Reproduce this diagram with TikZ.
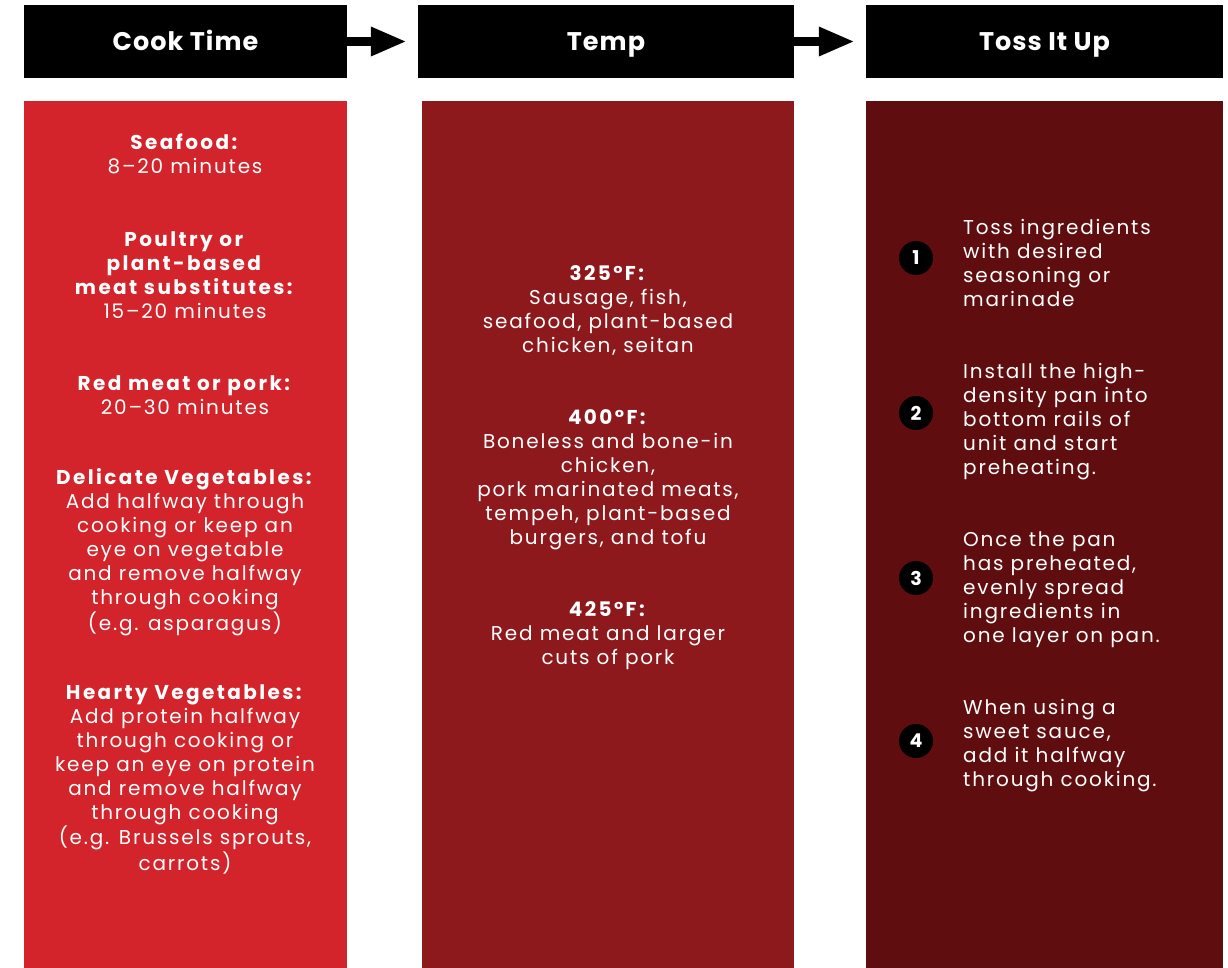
\documentclass[tikz,border=0pt]{standalone}
\usepackage{fontspec}
\setmainfont{Poppins}[UprightFeatures={LetterSpace=9}, BoldFeatures={LetterSpace=12}]
\newfontfamily\headfont{Poppins}[BoldFeatures={LetterSpace=4}]
\usetikzlibrary{arrows.meta}

\definecolor{cookred}{RGB}{211,36,43}
\definecolor{tempred}{RGB}{142,25,29}
\definecolor{tossred}{RGB}{96,13,16}

\tikzset{
  header/.style={fill=black, text=white, minimum height=73pt, inner sep=0pt,
    text height=18pt, text depth=0pt,
    font=\headfont\bfseries\fontsize{25.5}{28}\selectfont},
  body/.style={text=white, align=center, inner sep=0pt, anchor=base,
    font=\fontsize{20}{24}\selectfont},
  steptext/.style={body, align=left, anchor=base west},
  stepnum/.style={circle, fill=black, text=white, minimum size=34pt, inner sep=0pt,
    font=\headfont\bfseries\fontsize{19}{19}\selectfont},
  flow/.style={line width=9pt, -{Triangle[length=36pt,width=27pt]}, shorten >=11pt}
}

\begin{document}
\begin{tikzpicture}
  [x=1pt, y=-1pt]
  \useasboundingbox (0,0) rectangle (1228,968);

  % panels
  \fill[cookred] (24,101) rectangle (347,968);
  \fill[tempred] (422,101) rectangle (794,968);
  \fill[tossred] (866,101) rectangle (1223,968);

  \node[header, minimum width=323pt] (cook) at (185.5,41.5) {Cook Time};
  \node[header, minimum width=376pt] (temp) at (606,41.5) {Temp};
  \node[header, minimum width=357pt] (toss) at (1044.5,41.5) {Toss It Up};

  \foreach \from/\to in {cook/temp,temp/toss}
  \draw[flow] (\from) -- (\to);

  % cook time (nodes sit on the baseline of their last line)
  \node[body] (seafood) at (185,174) {\textbf{Seafood:}\\8–20 minutes};
  \node[body] (poultry) at (185,318) {\textbf{Poultry or}\\\textbf{plant-based}\\\textbf{meat substitutes:}\\15–20 minutes};
  \node[body] (redmeat) at (185,414) {\textbf{Red meat or pork:}\\20–30 minutes};
  \node[body] (delicate) at (185,630) {\textbf{Delicate Vegetables:}\\Add halfway through\\cooking or keep an\\eye on vegetable\\and remove halfway\\through cooking\\(e.g. asparagus)};
  \node[body] (hearty) at (185,870) {\textbf{Hearty Vegetables:}\\Add protein halfway\\through cooking or\\keep an eye on protein\\and remove halfway\\through cooking\\(e.g. Brussels sprouts,\\carrots)};

  % temp
  \node[body] (t325) at (608,352) {\textbf{325°F:}\\Sausage, fish,\\seafood, plant-based\\chicken, seitan};
  \node[body] (t400) at (608,544) {\textbf{400°F:}\\Boneless and bone-in\\chicken,\\pork marinated meats,\\tempeh, plant-based\\burgers, and tofu};
  \node[body] (t425) at (608,664) {\textbf{425°F:}\\Red meat and larger\\cuts of pork};

  % toss it up
  \node[steptext] (s1) at (963,306) {Toss ingredients\\with desired\\seasoning or\\marinade};
  \node[steptext] (s2) at (963,474) {Install the high-\\density pan into\\bottom rails of\\unit and start\\preheating.};
  \node[steptext] (s3) at (963,642) {Once the pan\\has preheated,\\evenly spread\\ingredients in\\one layer on pan.};
  \node[steptext] (s4) at (963,786) {When using a\\sweet sauce,\\add it halfway\\through cooking.};

  \node[stepnum] (n1) at (916,258) {1};
  \node[stepnum] (n2) at (916,413) {2};
  \node[stepnum] (n3) at (916,578) {3};
  \node[stepnum] (n4) at (916,741) {4};

\end{tikzpicture}
\end{document}
